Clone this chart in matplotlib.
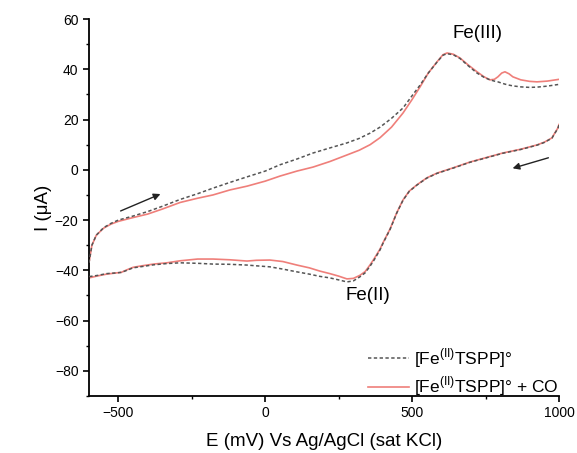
import numpy as np
import matplotlib.pyplot as plt
from matplotlib.ticker import MultipleLocator

plt.rcParams['font.family'] = ['Liberation Sans', 'DejaVu Sans']
plt.rcParams['mathtext.fontset'] = 'custom'
plt.rcParams['mathtext.rm'] = 'Liberation Sans'

# Anodic sweep (-600 -> 1000 mV)
fwd_e = [-600, -590, -575, -550, -525, -500, -450, -400, -350, -290, -230, -178,
         -120, -62, 0, 50, 108, 163, 220, 278, 320, 357, 391, 430, 469, 500, 527,
         555, 585, 605, 619, 640, 663, 690, 721, 745, 765, 780, 792, 805, 816, 830,
         843, 870, 900, 925, 960, 1000]
fwd_i_ar = [-37, -30, -26, -23, -21.3, -20, -18.4, -16.6, -14.5, -11.8, -9.5, -7.3,
            -5, -2.8, -0.5, 2.0, 4.3, 6.7, 8.7, 10.7, 12.5, 14.6, 17, 20.5, 24.6, 29.5, 33.7,
            38.5, 42.9, 45.6, 46.2, 45.8, 44.3, 41.5, 38.5, 36.8, 35.8, 35.3, 35, 34.5, 34.1, 33.7,
            33.4, 33, 32.8, 32.9, 33.3, 34]
fwd_i_co = [-37, -30, -26, -23.2, -21.6, -20.5, -19, -17.6, -15.6, -13, -11.3, -10,
            -8, -6.5, -4.5, -2.5, -0.5, 1.1, 3.3, 5.9, 7.8, 10, 12.8, 17, 22.6, 28, 33,
            38.5, 43, 45.8, 46.5, 46, 44.5, 41.8, 39, 37, 35.8, 36, 37, 38.5, 39, 38.2,
            37, 35.8, 35.2, 35, 35.3, 36]

# Cathodic sweep (1000 -> -600 mV)
rev_e = [1000, 996, 985, 976, 950, 925, 870, 809, 750, 697, 640, 585, 550, 516, 490,
         469, 448, 425, 401, 391, 370, 357, 340, 322, 300, 278, 250, 220, 186, 150, 108,
         60, 16, -30, -62, -120, -178, -230, -290, -335, -380, -420, -450, -471, -490,
         -505, -540, -570, -600]
rev_i_ar = [17.8, 16.4, 14.4, 12.6, 10.9, 9.8, 8.1, 6.6, 4.7, 3.0, 0.7, -1.4, -3.3, -6.1, -8.6,
            -12.1, -17.1, -23.7, -29.2, -31.8, -36, -38.3, -41, -42.6, -44.2, -44.6, -43.8, -43, -42.4, -41.5, -40.6,
            -39.5, -38.6, -38.2, -37.9, -37.6, -37.5, -37.2, -37, -37.3, -37.8, -38.5, -39, -40, -40.8,
            -41, -41.3, -42, -42.5]
rev_i_co = [18, 16.6, 14.5, 12.7, 11, 9.9, 8.2, 6.7, 4.8, 3.1, 0.8, -1.3, -3.2, -6, -8.5,
            -12, -17, -23.5, -29, -31.5, -35.5, -37.8, -40.5, -42, -43.2, -43.4, -42.3, -41.3, -40.3, -39, -37.9,
            -36.5, -35.9, -36, -36.3, -35.8, -35.5, -35.5, -36.2, -37, -37.5, -38.2, -38.8, -39.8, -40.8,
            -41, -41.5, -42.2, -43]

labels = [r'[Fe$^{\mathrm{(II)}}$TSPP]°', r'[Fe$^{\mathrm{(II)}}$TSPP]° + CO']

fig = plt.figure(figsize=(5.77, 4.53), dpi=100)
ax = fig.add_axes([0.1542, 0.1258, 0.8146, 0.8322])

# break between sweeps so the switching point isn't joined by a vertical line
e_all = np.r_[fwd_e, np.nan, rev_e]
ax.plot(e_all, np.r_[fwd_i_ar, np.nan, rev_i_ar], color='#555555', lw=1.1,
        ls=(0, (2.2, 1.6)), label=labels[0], zorder=3)
ax.plot(e_all, np.r_[fwd_i_co, np.nan, rev_i_co], color='#ef7f7a', lw=1.2,
        label=labels[1], zorder=2)

# scan direction arrows
ax.annotate('', xy=(-348, -9.2), xytext=(-501, -16.8),
            arrowprops=dict(arrowstyle='-|>', color='#222222', lw=1.0, mutation_scale=10))
ax.annotate('', xy=(833, 0.3), xytext=(973, 5.1),
            arrowprops=dict(arrowstyle='-|>', color='#222222', lw=1.0, mutation_scale=10))

ax.text(724, 54.4, 'Fe(III)', ha='center', va='center', fontsize=13.5)
ax.text(350, -50.2, 'Fe(II)', ha='center', va='center', fontsize=13.5)

ax.set_xlim(-600, 1000)
ax.set_ylim(-90, 60)
ax.xaxis.set_major_locator(MultipleLocator(500))
ax.xaxis.set_minor_locator(MultipleLocator(250))
ax.yaxis.set_major_locator(MultipleLocator(20))
ax.yaxis.set_minor_locator(MultipleLocator(10))
for s in ['top', 'right']:
    ax.spines[s].set_visible(False)
for s in ['left', 'bottom']:
    ax.spines[s].set_linewidth(1.3)
ax.tick_params(which='major', direction='out', length=4, width=1.2, labelsize=10)
ax.tick_params(which='minor', direction='out', length=2.5, width=1.0)

ax.set_xlabel('E (mV) Vs Ag/AgCl (sat KCl)', fontsize=13.5, labelpad=9)
ax.set_ylabel('I (μA)', fontsize=13.5, labelpad=2)

ax.legend(loc='lower right', bbox_to_anchor=(1.015, -0.025), frameon=False, fontsize=12.5,
          handlelength=2.4, handletextpad=0.3, borderaxespad=0.0, labelspacing=0.3)

fig.savefig('out.png', dpi=100)
